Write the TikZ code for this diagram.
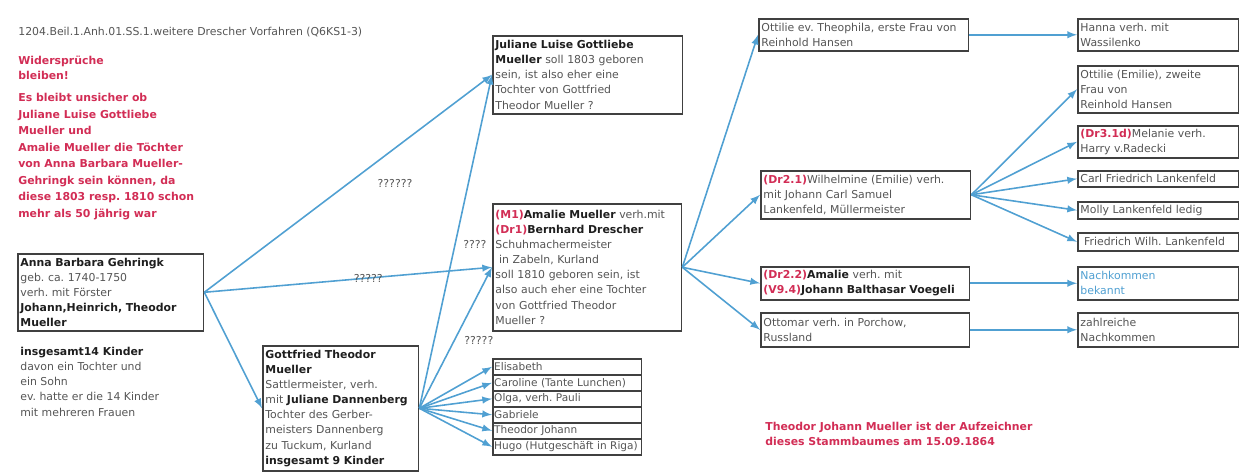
\documentclass[tikz,border=0pt]{standalone}
\usepackage{fontspec}
\setmainfont{DejaVu Sans}
\usepackage{xcolor}
\usepackage{tikz}
\usetikzlibrary{positioning}

\definecolor{pfeilblau}{RGB}{80,160,210}
\definecolor{rotschrift}{RGB}{210,45,85}
\definecolor{grauschrift}{RGB}{85,85,85}
\definecolor{dunkel}{RGB}{30,30,30}
\newcommand{\nm}[1]{\textbf{\color{dunkel}#1}}
\newcommand{\kz}[1]{\textbf{\color{rotschrift}#1}}
\newcommand{\klein}{\fontsize{6.2}{8.6}\selectfont\frenchspacing}

\begin{document}
\begin{tikzpicture}[>=latex, x=0.02cm, y=-0.02cm,
    box/.style={draw=black!75, line width=0.9pt, fill=white, anchor=north west,
        align=left, inner xsep=1.5pt, inner ysep=0pt, font=\klein, text=grauschrift},
    kind/.style={box, inner xsep=0.8pt, text width=2.92cm, minimum height=0.32cm,
        font=\fontsize{6}{8.6}\selectfont\frenchspacing},
    pfeil/.style={->, draw=pfeilblau, line width=0.9pt},
    frage/.style={font=\klein, text=grauschrift},
    notiz/.style={anchor=north west, align=left, inner sep=0pt, font=\klein, text=grauschrift},
    rotnotiz/.style={notiz, text=rotschrift, font=\klein\bfseries}]
    \useasboundingbox (0,0) rectangle (1246,472);

    % 1. Texte links
    \node[notiz] (titel) at (18,27) {1204.Beil.1.Anh.01.SS.1.weitere Drescher Vorfahren (Q6KS1-3)};
    \node[rotnotiz] (widerspruch) at (18,56) {Widersprüche\\bleiben!};
    \node[rotnotiz, font=\fontsize{6.2}{9.4}\selectfont\bfseries\frenchspacing] (unsicher) at (18,93)
        {Es bleibt unsicher ob\\Juliane Luise Gottliebe\\Mueller und\\Amalie Mueller die Töchter\\
         von Anna Barbara Mueller-\\Gehringk sein können, da\\diese 1803 resp. 1810 schon\\mehr als 50 jährig war};
    \node[notiz] (kinderinfo) at (20,347)
        {\nm{insgesamt14 Kinder}\\davon ein Tochter und\\ein Sohn\\ev. hatte er die 14 Kinder\\mit mehreren Frauen};

    % 2. Eltern und erste Generation
    \node[box, text width=3.61cm, minimum height=1.54cm] (anna) at (17,253)
        {\nm{Anna Barbara Gehringk}\\geb. ca. 1740-1750\\verh. mit Förster\\\nm{Johann,Heinrich, Theodor}\\\nm{Mueller}};
    \node[box, text width=3.01cm, minimum height=2.5cm] (gottfried) at (262,345)
        {\nm{Gottfried Theodor}\\\nm{Mueller}\\Sattlermeister, verh.\\mit \nm{Juliane Dannenberg}\\Tochter des Gerber-\\meisters Dannenberg\\zu Tuckum, Kurland\\\nm{insgesamt 9 Kinder}};
    \node[box, text width=3.69cm, minimum height=1.56cm] (juliane) at (492,35)
        {\nm{Juliane Luise Gottliebe}\\\nm{Mueller} soll 1803 geboren\\sein, ist also eher eine\\Tochter von Gottfried\\Theodor Mueller ?};
    \node[box, text width=3.67cm, minimum height=2.54cm] (amalie) at (492,203)
        {\kz{(M1)}\nm{Amalie Mueller} verh.mit\\\kz{(Dr1)}\nm{Bernhard Drescher}\\Schuhmachermeister\\\ in Zabeln, Kurland\\soll 1810 geboren sein, ist\\also auch eher eine Tochter\\von Gottfried Theodor\\Mueller ?};

    % 3. Kinder von Gottfried
    \node[kind] (elisabeth) at (492,358) {Elisabeth};
    \node[kind] (caroline) at (492,374) {Caroline (Tante Lunchen)};
    \node[kind] (olga) at (492,390) {Olga, verh. Pauli};
    \node[kind] (gabriele) at (492,406) {Gabriele};
    \node[kind] (theodor) at (492,422) {Theodor Johann};
    \node[kind] (hugo) at (492,438) {Hugo (Hutgeschäft in Riga)};

    % 4. Kinder von Amalie
    \node[box, text width=4.09cm, minimum height=0.64cm] (ottilie) at (758,18)
        {Ottilie ev. Theophila, erste Frau von\\Reinhold Hansen};
    \node[box, text width=4.09cm, minimum height=0.96cm] (wilhelmine) at (760,170)
        {\kz{(Dr2.1)}Wilhelmine (Emilie) verh.\\mit Johann Carl Samuel\\Lankenfeld, Müllermeister};
    \node[box, text width=4.07cm, minimum height=0.66cm] (amalietochter) at (760,266)
        {\kz{(Dr2.2)}\nm{Amalie} verh. mit\\\kz{(V9.4)}\nm{Johann Balthasar Voegeli}};
    \node[box, text width=4.07cm, minimum height=0.68cm] (ottomar) at (760,312)
        {Ottomar verh. in Porchow,\\Russland};

    % 5. Enkel
    \node[box, text width=3.11cm, minimum height=0.64cm] (hanna) at (1077,18) {Hanna verh. mit\\Wassilenko};
    \node[box, text width=3.11cm, minimum height=0.94cm] (ottilie2) at (1077,65) {Ottilie (Emilie), zweite\\Frau von\\Reinhold Hansen};
    \node[box, text width=3.11cm, minimum height=0.64cm] (melanie) at (1077,125) {\kz{(Dr3.1d)}Melanie verh.\\Harry v.Radecki};
    \node[box, text width=3.11cm, minimum height=0.32cm] (carl) at (1077,170) {Carl Friedrich Lankenfeld};
    \node[box, text width=3.11cm, minimum height=0.34cm] (molly) at (1077,201) {Molly Lankenfeld ledig};
    \node[box, text width=3.11cm, minimum height=0.36cm] (friedrich) at (1077,232) {\ Friedrich Wilh. Lankenfeld};
    \node[box, text width=3.11cm, minimum height=0.66cm, text=pfeilblau] (bekannt) at (1077,266) {Nachkommen\\bekannt};
    \node[box, text width=3.11cm, minimum height=0.68cm] (zahlreiche) at (1077,312) {zahlreiche\\Nachkommen};

    \node[rotnotiz] (aufzeichner) at (765,422)
        {Theodor Johann Mueller ist der Aufzeichner\\dieses Stammbaumes am 15.09.1864};

    % 6. Pfeile
    \node[frage] (frage1) at (395,183) {??????};
    \draw[pfeil] (anna.east) -- (juliane.west);
    \draw[pfeil] (anna.east) -- node[frage, pos=0.57] {?????} (amalie.west);
    \draw[pfeil] (anna.east) -- (gottfried.west);
    \draw[pfeil] (gottfried.east) -- node[frage, pos=0.49, right=1pt] {????} (juliane.west);
    \draw[pfeil] (gottfried.east) -- node[frage, pos=0.48, right=2pt] {?????} (amalie.west);
    \foreach \k in {elisabeth, caroline, olga, gabriele, theodor, hugo}
        \draw[pfeil] (gottfried.east) -- (\k.west);
    \foreach \k in {ottilie, wilhelmine, amalietochter, ottomar}
        \draw[pfeil] (amalie.east) -- (\k.west);
    \draw[pfeil] (ottilie.east) -- (hanna.west);
    \foreach \k in {ottilie2, melanie, carl, molly, friedrich}
        \draw[pfeil] (wilhelmine.east) -- (\k.west);
    \draw[pfeil] (amalietochter.east) -- (bekannt.west);
    \draw[pfeil] (ottomar.east) -- (zahlreiche.west);
\end{tikzpicture}
\end{document}
